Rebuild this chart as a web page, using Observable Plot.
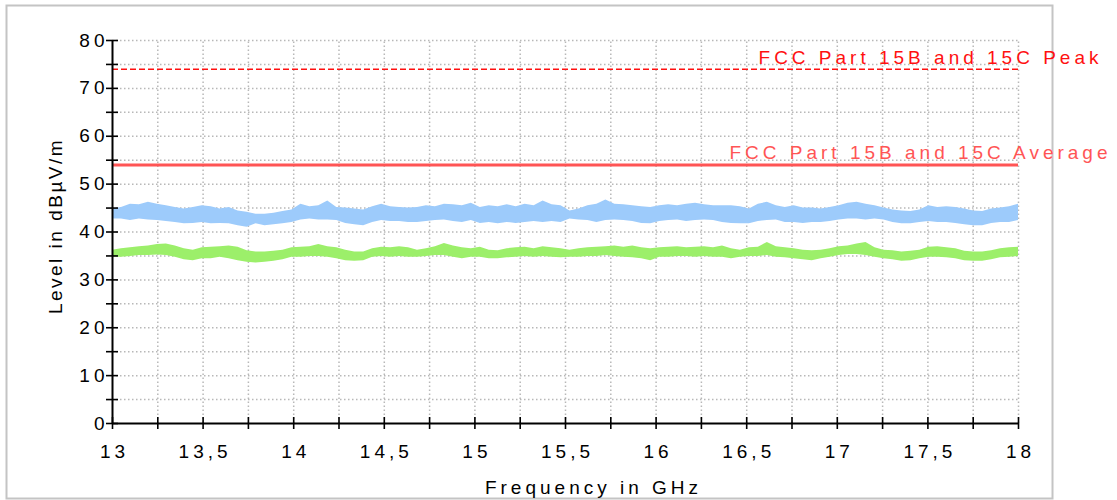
<!DOCTYPE html>
<html>
<head>
<meta charset="utf-8">
<script src="https://cdn.jsdelivr.net/npm/d3@7"></script>
<script src="https://cdn.jsdelivr.net/npm/@observablehq/plot@0.6"></script>
<style>
  html, body { margin: 0; padding: 0; background: #fff; }
  svg text { letter-spacing: 4px; }
  svg g.ytitle text { letter-spacing: 2.5px; }
</style>
</head>
<body>
<div id="chart"></div>
<script>
// Axis ticks
const xTicks = [13, 13.25, 13.5, 13.75, 14, 14.25, 14.5, 14.75, 15, 15.25, 15.5, 15.75, 16, 16.25, 16.5, 16.75, 17, 17.25, 17.5, 17.75, 18];
const xLabels = [13, 13.5, 14, 14.5, 15, 15.5, 16, 16.5, 17, 17.5, 18];
const yTicks = [0, 5, 10, 15, 20, 25, 30, 35, 40, 45, 50, 55, 60, 65, 70, 75, 80];
const yLabels = [0, 10, 20, 30, 40, 50, 60, 70, 80];

// Limit lines
const limitNames = ["FCC Part 15B and 15C Peak", "FCC Part 15B and 15C Average"];
const limitValues = [74, 54];

// Trace envelopes (dBµV/m), sampled evenly from 13 to 18 GHz
const peakHigh = [
  44.8,45.1,45.8,45.7,46.2,45.8,45.5,45.1,44.8,45.1,45.5,45.3,44.8,45.1,44.4,44.1,43.7,
  43.7,43.9,44.3,44.6,45.8,45.3,45.5,46.5,45.1,45.0,44.8,44.6,45.3,45.8,45.3,45.1,45.0,
  45.1,45.5,45.3,45.8,45.7,45.5,46.0,45.1,45.5,45.3,45.7,45.3,45.8,45.5,46.5,45.7,45.5,
  44.4,44.8,45.5,45.8,46.7,45.8,45.7,45.5,45.3,45.1,45.5,45.7,45.5,45.8,46.0,45.7,45.5,
  45.5,45.5,45.3,44.8,45.8,46.2,45.5,45.1,45.5,45.0,45.0,44.8,45.1,45.5,46.0,46.2,45.8,
  45.5,45.0,44.6,44.4,44.3,44.6,45.5,45.1,45.3,45.1,44.8,44.4,44.3,44.8,45.0,45.3,45.8
];
const peakLow = [
  42.7,42.7,42.4,42.7,42.5,42.4,42.2,42.0,41.7,41.8,42.0,41.7,41.8,41.7,41.3,41.0,41.7,
  41.3,41.5,41.7,42.0,42.5,42.7,42.5,42.5,42.4,41.8,41.5,41.3,42.0,42.4,42.2,42.2,42.0,
  42.0,42.2,42.4,42.5,42.2,42.0,42.4,41.8,42.0,41.7,42.0,41.8,42.0,42.2,42.0,42.2,42.0,
  42.7,42.5,42.4,42.0,42.4,42.5,42.4,42.2,41.8,41.7,42.2,42.4,42.5,42.2,42.4,42.5,42.4,
  42.0,41.8,41.7,41.7,42.2,42.4,42.5,42.0,42.0,41.8,42.0,42.0,42.2,42.5,42.7,42.7,42.5,
  42.7,42.5,42.0,41.7,41.7,42.0,42.2,42.0,42.0,41.8,41.5,41.3,41.3,41.8,42.0,42.0,42.4
];
const avgHigh = [
  36.2,36.5,36.7,36.9,37.1,37.4,37.5,37.1,36.5,36.2,36.7,36.8,36.9,37.1,36.8,36.1,35.8,
  35.8,36.0,36.2,36.7,36.8,36.9,37.4,36.9,36.7,36.2,35.8,35.8,36.5,36.8,36.7,36.9,36.7,
  36.2,36.5,36.9,37.6,37.1,36.7,36.5,36.8,36.2,36.1,36.5,36.7,36.8,36.5,36.9,36.7,36.5,
  36.2,36.5,36.7,36.8,36.9,37.1,36.8,37.1,36.7,36.5,36.7,36.8,36.9,36.7,36.8,36.9,36.7,
  37.1,36.5,36.2,36.7,36.8,37.8,36.9,36.7,36.5,36.2,36.1,36.2,36.5,36.9,37.1,37.5,37.8,
  36.7,36.2,36.1,35.8,36.0,36.2,36.8,36.9,36.7,36.5,36.0,35.8,35.8,36.1,36.5,36.7,36.8
];
const avgLow = [
  34.7,34.7,34.9,35.1,35.1,35.2,35.1,34.7,34.2,34.0,34.4,34.4,34.7,34.4,34.0,33.7,33.5,
  33.7,33.9,34.2,34.7,34.7,34.9,34.9,34.7,34.4,34.0,33.9,34.0,34.7,34.9,34.7,34.9,34.7,
  34.7,34.9,35.1,35.1,34.7,34.4,34.7,34.7,34.4,34.4,34.6,34.7,34.9,34.7,34.9,34.7,34.6,
  34.7,34.7,34.9,34.9,35.1,34.9,34.7,34.6,34.4,34.0,34.7,34.7,34.9,34.9,34.7,34.9,34.7,
  34.7,34.4,34.7,34.9,34.9,35.1,34.7,34.6,34.4,34.2,34.0,34.4,34.7,35.1,35.3,35.3,35.1,
  34.7,34.4,34.2,33.9,34.0,34.4,34.7,34.7,34.6,34.4,34.0,33.9,33.9,34.2,34.6,34.7,34.9
];
const freq = peakHigh.map((_, i) => 13 + i * 5 / (peakHigh.length - 1));

const peakData = freq.map((f, i) => ({f, lo: peakLow[i], hi: peakHigh[i]}));
const avgData = freq.map((f, i) => ({f, lo: avgLow[i], hi: avgHigh[i]}));
const limits = limitNames.map((name, i) => ({name, value: limitValues[i]}));

const fmt = d => String(d).replace(".", ",");

const chart = Plot.plot({
  width: 1117,
  height: 500,
  marginLeft: 112,
  marginRight: 99,
  marginTop: 40,
  marginBottom: 77,
  style: {fontFamily: "'Liberation Sans', Arial, sans-serif", fontSize: "19px", color: "#000", background: "#fff", overflow: "visible"},
  x: {domain: [13, 18]},
  y: {domain: [0, 80]},
  marks: [
    // outer border
    Plot.frame({stroke: "#c4c4c4", strokeWidth: 2, insetLeft: -106, insetTop: -35, insetRight: -34, insetBottom: -75}),
    // dotted grid
    Plot.ruleY(yTicks.slice(1), {x1: 13, x2: 18, stroke: "#b8b8b8", strokeWidth: 1.5, strokeDasharray: "1.5,2.5"}),
    Plot.ruleX(xTicks.slice(1), {y1: 0, y2: 80, stroke: "#b8b8b8", strokeWidth: 1.5, strokeDasharray: "1.5,2.5"}),
    // traces
    Plot.areaY(peakData, {x: "f", y1: "lo", y2: "hi", fill: "#9dcbfb"}),
    Plot.areaY(avgData, {x: "f", y1: "lo", y2: "hi", fill: "#9cef6a"}),
    // limit lines
    Plot.ruleY(limits.slice(0, 1), {y: "value", x1: 13, x2: 18, stroke: "#ff1010", strokeWidth: 1.5, strokeDasharray: "6,3"}),
    Plot.ruleY(limits.slice(1), {y: "value", x1: 13, x2: 18, stroke: "#ff5555", strokeWidth: 3}),
    Plot.text(limits.slice(0, 1), {x: 18, y: "value", text: "name", textAnchor: "end", lineAnchor: "bottom", dx: 84, dy: -5, fill: "#ff1010"}),
    Plot.text(limits.slice(1), {x: 18, y: "value", text: "name", textAnchor: "end", lineAnchor: "bottom", dx: 93, dy: -6, fill: "#ff5555"}),
    // axes lines
    Plot.ruleX([13], {y1: 0, y2: 80, stroke: "#000", strokeWidth: 2}),
    Plot.ruleY([0], {x1: 13, x2: 18, stroke: "#000", strokeWidth: 2}),
    // ticks crossing the axes
    Plot.ruleY(yTicks, {y: d => d, x1: 13, x2: 13, insetLeft: -6, insetRight: -6, stroke: "#000", strokeWidth: 1.6}),
    Plot.ruleX(xTicks, {x: d => d, y1: 0, y2: 0, insetTop: -6, insetBottom: -6, stroke: "#000", strokeWidth: 1.6}),
    // tick labels
    Plot.axisY({ticks: yLabels, tickSize: 0, tickPadding: 4, label: null}),
    Plot.axisX({ticks: xLabels, tickSize: 0, tickPadding: 21, dx: 2, tickFormat: fmt, label: null}),
    // axis titles
    Plot.text(["Frequency in GHz"], {frameAnchor: "bottom", textAnchor: "middle", lineAnchor: "bottom", dy: 70, dx: 28}),
    Plot.text(["Level in dBµV/m"], {frameAnchor: "left", textAnchor: "middle", rotate: -90, lineAnchor: "bottom", dx: -51, dy: -6, className: "ytitle"})
  ]
});
document.getElementById("chart").appendChild(chart);
</script>
</body>
</html>
